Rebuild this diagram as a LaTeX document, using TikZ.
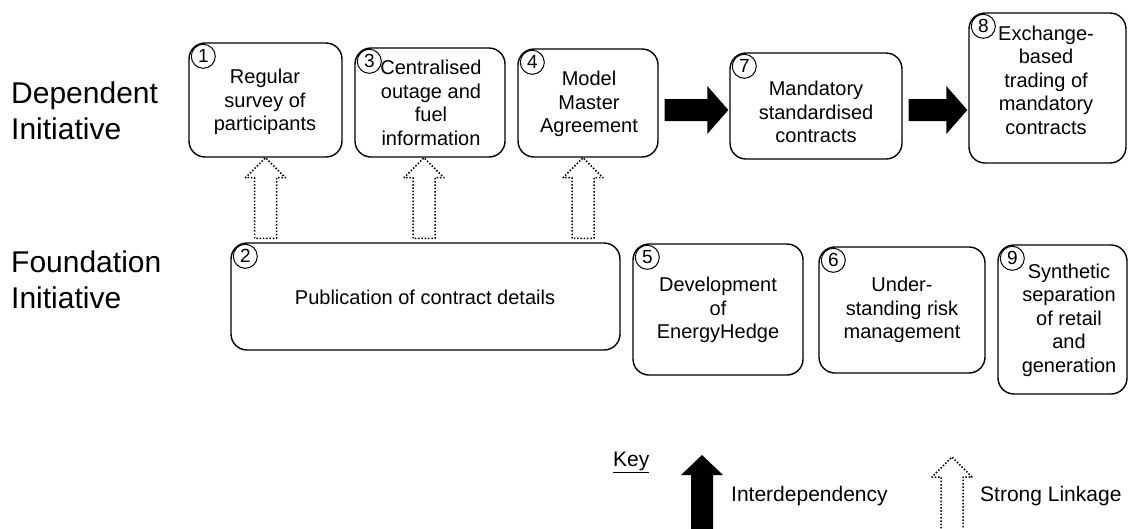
\documentclass[tikz,border=0pt]{standalone}
\usepackage{fontspec}
\setmainfont{Liberation Sans}
\usetikzlibrary{calc}
\newcommand\linkup[2]{%
  \draw[linkage] let \p1=#1, \p2=#2 in
    (\x1-11pt,\y2+4pt) -- (\x1-11pt,\y1-20pt) -- (\x1-20pt,\y1-20pt) -- (\x1,\y1)
    -- (\x1+20pt,\y1-20pt) -- (\x1+11pt,\y1-20pt) -- (\x1+11pt,\y2+4pt) -- cycle;}
\newcommand\solidright[3]{%
  \fill[black] let \p1=(#1.east), \p2=(#2.west), \p3=(#3) in
    (\x1+6pt,\y3+11pt) -- (\x2-22pt,\y3+11pt) -- (\x2-22pt,\y3+24pt) -- (\x2-1pt,\y3)
    -- (\x2-22pt,\y3-24pt) -- (\x2-22pt,\y3-11pt) -- (\x1+6pt,\y3-11pt) -- cycle;}
\begin{document}
\begin{tikzpicture}[x=1pt,y=-1pt,
  box/.style={draw, rounded corners=16pt, line width=1.4pt, inner sep=0pt},
  num/.style={draw, circle, line width=1pt, minimum size=24pt, inner sep=0pt,
              font=\fontsize{19}{19}\selectfont},
  txt/.style={align=center, inner sep=0pt, font=\fontsize{20}{23.5}\selectfont},
  side/.style={align=left, anchor=west, inner sep=0pt, font=\fontsize{30}{36}\selectfont},
  lbl/.style={inner sep=0pt, font=\fontsize{21}{24}\selectfont},
  linkage/.style={line width=1.5pt, dash pattern=on 1.5pt off 1.8pt, line join=round}]
\clip (0,0) rectangle (1129,528);
\fill[white] (0,0) rectangle (1129,528);

% row labels
\node[side] (dep) at (11,111) {Dependent\\Initiative};
\node[side] (fnd) at (11,280) {Foundation\\Initiative};

% boxes
\node[box, minimum width=153pt, minimum height=114pt] (b1) at (265.5,100) {};
\node[box, minimum width=150pt, minimum height=109pt] (b3) at (430,102.5) {};
\node[box, minimum width=140pt, minimum height=108pt] (b4) at (588,103) {};
\node[box, minimum width=172pt, minimum height=106pt] (b7) at (816,106) {};
\node[box, minimum width=157pt, minimum height=150pt] (b8) at (1047.5,88) {};
\node[box, minimum width=389pt, minimum height=107pt] (b2) at (425.5,296.5) {};
\node[box, minimum width=170pt, minimum height=131pt] (b5) at (718,309.5) {};
\node[box, minimum width=166pt, minimum height=126pt] (b6) at (902,310) {};
\node[box, minimum width=129pt, minimum height=149pt] (b9) at (1062.5,319.5) {};

% texts
\node[txt] (t1) at (265,102) {Regular\\survey of\\participants};
\node[txt] (t3) at (431,103) {Centralised\\outage and\\fuel\\information};
\node[txt] (t4) at (589,104) {Model\\Master\\Agreement};
\node[txt] (t7) at (816,112) {Mandatory\\standardised\\contracts};
\node[txt] (t8) at (1046,80) {Exchange-\\based\\trading of\\mandatory\\contracts};
\node[txt] (t2) at (425,297) {Publication of contract details};
\node[txt] (t5) at (718,310) {Development\\of\\EnergyHedge};
\node[txt] (t6) at (902,310) {Under-\\standing risk\\management};
\node[txt] (t9) at (1069,320) {Synthetic\\separation\\of retail\\and\\generation};

% numbers
\foreach \b/\n in {b1/1,b2/2,b3/3,b4/4,b5/5,b6/6,b7/7,b8/8,b9/9}
  \node[num] (n\n) at ($(\b.north west)+(15,14)$) {\n};

% interdependency arrows
\coordinate (rowA) at (0,110);
\solidright{b4}{b7}{rowA}
\solidright{b7}{b8}{rowA}

% strong linkage arrows
\linkup{(b1.south)}{(b2.north)}
\linkup{($(b3.south)+(-6,0)$)}{(b2.north)}
\linkup{($(b4.south)+(-5,0)$)}{(b2.north)}

% key
\node[lbl, anchor=base west] (key) at (613,466) {\underline{Key}};
\fill[black] (691,535) -- (691,475) -- (681,475) -- (702,455) -- (723,475) -- (713,475) -- (713,535) -- cycle;
\node[lbl, anchor=west] (kint) at (731,496) {Interdependency};
\draw[linkage] (941,535) -- (941,477) -- (932,477) -- (952,457) -- (972,477) -- (963,477) -- (963,535);
\node[lbl, anchor=west] (klink) at (980,496) {Strong Linkage};
\end{tikzpicture}
\end{document}
